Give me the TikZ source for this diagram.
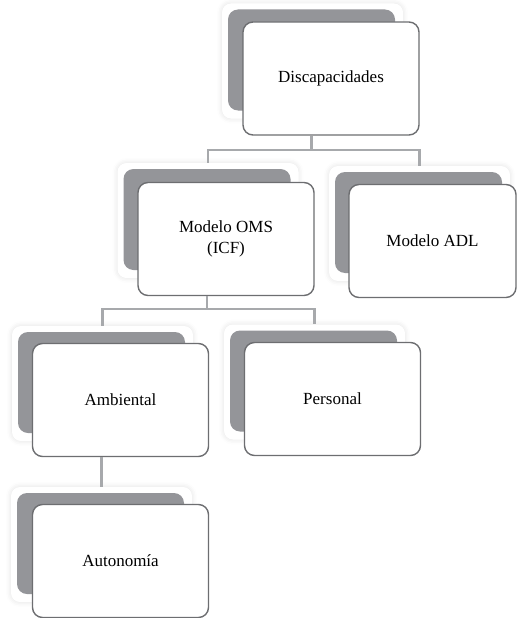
\documentclass[tikz,border=0pt]{standalone}
\usepackage{fontspec}
\setmainfont{Liberation Serif}
\usepackage{xcolor}
\usepackage{tikz}
\usetikzlibrary{positioning, calc, shadows.blur}
\definecolor{sombragris}{HTML}{949599}
\definecolor{bordegris}{HTML}{6D6E71}
\definecolor{ramagris}{HTML}{A7A9AC}

\tikzset{
  halo/.style={fill=white, rounded corners=9pt, minimum width=181pt, minimum height=115pt,
    blur shadow={shadow xshift=0pt, shadow yshift=0pt, shadow blur radius=5pt, shadow opacity=12}},
  sombra/.style={fill=sombragris, rounded corners=10pt, minimum width=167pt, minimum height=101pt},
  tarjeta/.style={draw=bordegris, line width=1.4pt, fill=white, rounded corners=10pt,
    minimum width=176pt, minimum height=113pt, align=center,
    font=\fontsize{17}{21}\selectfont},
  rama/.style={draw=ramagris, line width=2.6pt}
}

\begin{document}
\begin{tikzpicture}[x=1pt, y=-1pt]

    % =================================================================
    % LAYER 0: THE PAGE
    % =================================================================
    \useasboundingbox (0,0) rectangle (517,618);

    % =================================================================
    % LAYER 1: THE SOFT HALOS
    % =================================================================
    \node[halo] (discH) at (312.5, 61.0) {};
    \node[halo] (omsH)  at (208.0,220.5) {};
    \node[halo] (adlH)  at (419.5,223.5) {};
    \node[halo] (ambH)  at (102.5,383.5) {};
    \node[halo] (perH)  at (314.5,382.0) {};
    \node[halo] (autH)  at (101.5,544.5) {};

    % =================================================================
    % LAYER 2: THE GREY SHADOW CARDS
    % =================================================================
    \node[sombra] (discS) at (311.5, 60.0) {};
    \node[sombra] (omsS)  at (207.0,219.5) {};
    \node[sombra] (adlS)  at (418.5,222.5) {};
    \node[sombra] (ambS)  at (101.5,382.5) {};
    \node[sombra] (perS)  at (313.5,381.0) {};
    \node[sombra] (autS)  at (100.5,543.5) {};

    % =================================================================
    % LAYER 3: THE WHITE CARDS
    % =================================================================
    \node[tarjeta] (disc) at (331.0, 78.5) {Discapacidades};
    \node[tarjeta] (oms)  at (226.0,239.0) {Modelo OMS\\(ICF)};
    \node[tarjeta, minimum width=167pt] (adl) at (432.5,241.0) {Modelo ADL};
    \node[tarjeta] (amb)  at (120.5,400.0) {Ambiental};
    \node[tarjeta] (per)  at (332.5,399.0) {Personal};
    \node[tarjeta] (aut)  at (120.5,561.0) {Autonomía};

    % =================================================================
    % LAYER 4: THE BRANCHES
    % =================================================================
    \coordinate (nivelA) at (0,150);
    \coordinate (nivelB) at (0,309);

    \draw[rama] (disc.south -| discS) -- (discS |- nivelA);
    \draw[rama] (omsH.north) -- (omsH |- nivelA) -- (adlH |- nivelA) -- (adlH.north);

    \draw[rama] (oms.south -| omsS) -- (omsS |- nivelB);
    \draw[rama] (ambH.north) -- (ambH |- nivelB) -- (perH |- nivelB) -- (perH.north);

    \draw[rama] (amb.south -| ambS) -- (autH.north);

\end{tikzpicture}
\end{document}
